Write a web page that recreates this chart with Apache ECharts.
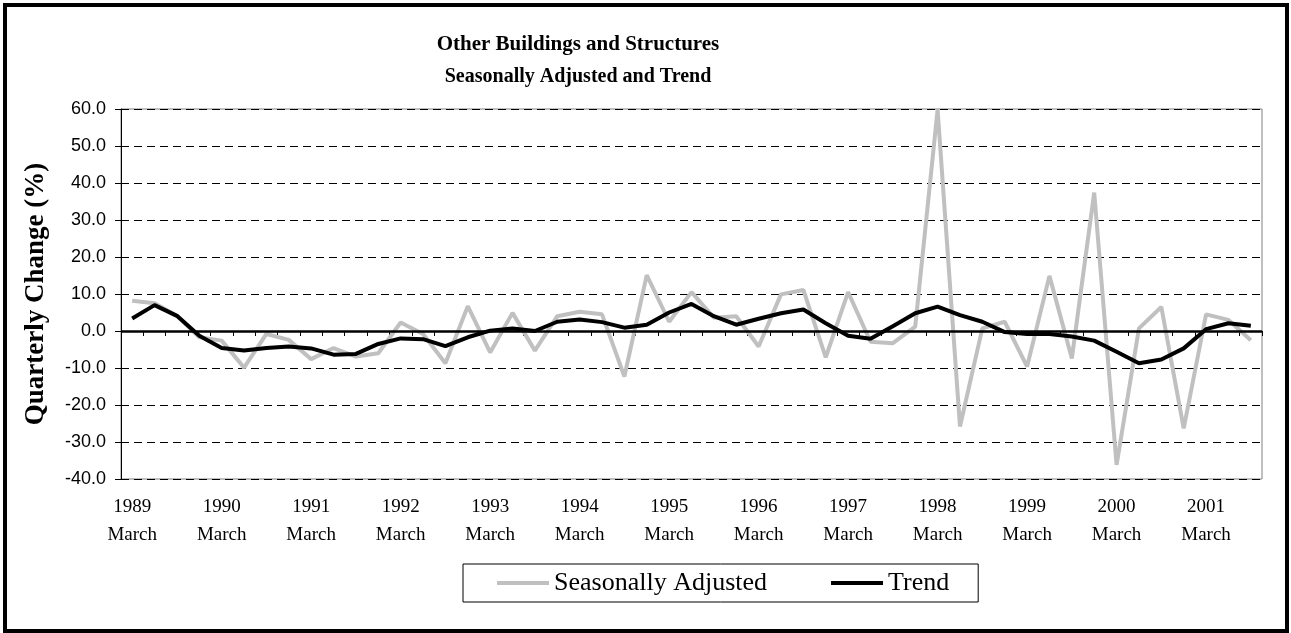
<!DOCTYPE html>
<html>
<head>
<meta charset="utf-8">
<script src="https://cdn.jsdelivr.net/npm/echarts@6/dist/echarts.min.js"></script>
<style>
  html, body { margin: 0; padding: 0; background: #fff; }
  #chart { width: 1291px; height: 633px; }
</style>
</head>
<body>
<div id="chart"></div>
<script>
// quarters 1989 March .. 2001 September
const years = [1989, 1990, 1991, 1992, 1993, 1994, 1995, 1996, 1997, 1998, 1999, 2000, 2001];
const months = ['March', 'June', 'September', 'December'];
const quarterCount = 51;

const seasAdj = [
  8.2, 7.5, 4.1, -1.7, -2.6, -9.9, -0.8, -2.4, -7.6, -4.6, -6.9, -6.0,
  2.3, -0.8, -8.7, 6.7, -5.8, 4.9, -5.3, 4.0, 5.2, 4.5, -12.3, 15.1,
  2.5, 10.5, 3.6, 4.0, -4.2, 9.9, 11.1, -7.1, 10.5, -2.9, -3.3, 1.2,
  59.8, -25.8, 0.7, 2.5, -9.6, 14.9, -7.4, 37.4, -36.2, 0.7, 6.5, -26.3,
  4.5, 3.0, -2.5
];
const trend = [
  3.4, 7.0, 4.1, -1.3, -4.6, -5.3, -4.6, -4.2, -4.7, -6.4, -6.2, -3.5,
  -2.0, -2.2, -4.1, -1.7, 0.1, 0.7, 0.0, 2.5, 3.1, 2.4, 0.9, 1.7,
  5.0, 7.3, 4.0, 1.7, 3.3, 4.8, 5.8, 2.1, -1.3, -2.1, 1.3, 4.8,
  6.6, 4.3, 2.5, -0.3, -0.8, -0.8, -1.5, -2.6, -5.6, -8.7, -7.7, -4.7,
  0.5, 2.1, 1.4
];

const categories = [];
for (let i = 0; i < quarterCount; i++) {
  categories.push(years[Math.floor(i / 4)] + '\n' + months[i % 4]);
}

const serif = '"Liberation Serif", "Times New Roman", serif';
const sans = '"Liberation Sans", Arial, sans-serif';

const chart = echarts.init(document.getElementById('chart'));

const option = {
  backgroundColor: '#fff',
  animation: false,
  title: [
    {
      text: 'Other Buildings and Structures',
      left: 573,
      top: 29,
      textAlign: 'center',
      textStyle: { fontFamily: serif, fontWeight: 'bold', fontSize: 21, lineHeight: 21, color: '#000' }
    },
    {
      text: 'Seasonally Adjusted and Trend',
      left: 573,
      top: 62,
      textAlign: 'center',
      textStyle: { fontFamily: serif, fontWeight: 'bold', fontSize: 20, lineHeight: 20, color: '#000' }
    }
  ],
  graphic: [
    {
      type: 'rect',
      shape: { x: 5, y: 5, width: 1282, height: 626 },
      style: { fill: 'none', stroke: '#000', lineWidth: 4 },
      silent: true
    }
  ],
  legend: {
    left: 463,
    top: 564,
    orient: 'horizontal',
    padding: [6, 29, 6, 34],
    itemGap: 64,
    itemWidth: 52,
    itemHeight: 4,
    icon: 'rect',
    borderColor: '#000',
    borderWidth: 1,
    textStyle: { fontFamily: serif, fontSize: 26, color: '#000' },
    data: ['Seasonally Adjusted', 'Trend']
  },
  grid: {
    left: 121,
    top: 109,
    width: 1141,
    height: 370,
    show: true,
    borderColor: '#808080',
    borderWidth: 1
  },
  xAxis: {
    type: 'category',
    data: categories,
    boundaryGap: true,
    axisLine: { lineStyle: { color: '#000', width: 1 } },
    axisTick: { show: true, interval: 0, length: 5, lineStyle: { color: '#000' } },
    axisLabel: {
      interval: 3,
      margin: 14,
      fontFamily: serif,
      fontSize: 19,
      lineHeight: 28,
      color: '#000'
    },
    splitLine: { show: false }
  },
  yAxis: {
    type: 'value',
    min: -40,
    max: 60,
    interval: 10,
    name: 'Quarterly Change (%)',
    nameLocation: 'middle',
    nameGap: 71,
    nameTextStyle: { fontFamily: serif, fontWeight: 'bold', fontSize: 27, color: '#000' },
    axisLine: { show: true, lineStyle: { color: '#000', width: 1 } },
    axisTick: { show: true, length: 6, lineStyle: { color: '#000' } },
    axisLabel: {
      margin: 15,
      fontFamily: sans,
      fontSize: 18,
      color: '#000',
      formatter: (v) => v.toFixed(1)
    },
    splitLine: { show: true, lineStyle: { color: '#000', width: 1, type: [8, 5] } }
  },
  series: [
    {
      name: 'Seasonally Adjusted',
      type: 'line',
      data: seasAdj,
      symbol: 'none',
      lineStyle: { color: '#c0c0c0', width: 4 },
      itemStyle: { color: '#c0c0c0' },
      z: 2
    },
    {
      name: 'Trend',
      type: 'line',
      data: trend,
      symbol: 'none',
      lineStyle: { color: '#000', width: 4 },
      itemStyle: { color: '#000' },
      z: 4,
      markLine: {
        silent: true,
        symbol: 'none',
        label: { show: false },
        lineStyle: { color: '#000', width: 2.5, type: 'solid' },
        data: [{ yAxis: 0 }]
      }
    }
  ]
};

chart.setOption(option);
</script>
</body>
</html>
